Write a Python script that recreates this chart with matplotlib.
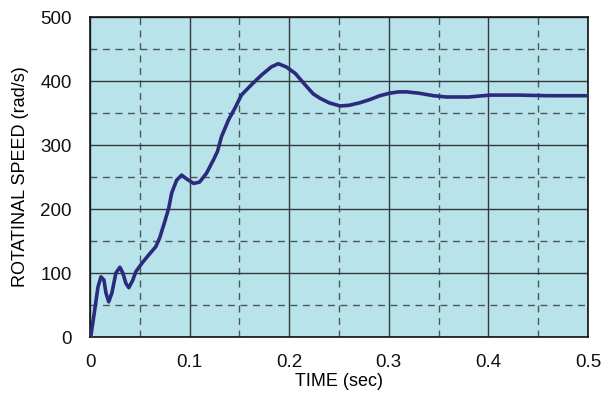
import matplotlib
matplotlib.use("Agg")
import matplotlib.pyplot as plt
from matplotlib.ticker import MultipleLocator

plt.rcParams['font.family'] = ['Liberation Sans', 'DejaVu Sans']

time_s = [0.0, 0.001, 0.0047, 0.008, 0.011, 0.014, 0.016, 0.0188, 0.022, 0.026,
          0.030, 0.033, 0.036, 0.039, 0.043, 0.046, 0.053, 0.061, 0.066, 0.070,
          0.075, 0.079, 0.082, 0.087, 0.092, 0.097, 0.104, 0.110, 0.117, 0.124,
          0.128, 0.132, 0.139, 0.146, 0.152, 0.162, 0.172, 0.182, 0.189, 0.197,
          0.206, 0.216, 0.224, 0.231, 0.240, 0.251, 0.260, 0.271, 0.281, 0.291,
          0.301, 0.310, 0.318, 0.330, 0.345, 0.358, 0.380, 0.402, 0.430, 0.460,
          0.500]
speed = [0, 3, 42, 78, 94, 89, 69, 55, 69, 100,
         109, 100, 84, 77, 89, 102, 117, 132, 141, 155,
         180, 201, 225, 245, 253, 247, 240, 242, 256, 277,
         290, 313, 339, 359, 378, 394, 409, 422, 427, 422,
         412, 394, 380, 373, 366, 361, 362, 366, 371, 377,
         381, 383, 383, 381, 377, 375, 375, 378, 378, 377,
         377]
xticks = [0, 0.1, 0.2, 0.3, 0.4, 0.5]
xticklabels = ['0', '0.1', '0.2', '0.3', '0.4', '0.5']
yticks = [0, 100, 200, 300, 400, 500]

fig = plt.figure(figsize=(6.05, 4.11), dpi=100)
ax = fig.add_axes([90/605, 1-337/411, (588-90)/605, (337-17)/411])
ax.set_facecolor('#b9e3ea')
ax.set_xlim(0, 0.5)
ax.set_ylim(0, 500)
ax.set_xticks(xticks)
ax.set_xticklabels(xticklabels)
ax.set_yticks(yticks)
ax.xaxis.set_minor_locator(MultipleLocator(0.05))
ax.yaxis.set_minor_locator(MultipleLocator(50))
ax.grid(which='major', color='#2f3a3c', linewidth=1.0, linestyle='-')
ax.grid(which='minor', color='#4a5558', linewidth=1.0, linestyle=(0, (5, 4)))
ax.set_axisbelow(True)
ax.tick_params(which='both', length=0, labelsize=13.5, colors='#111111')
ax.tick_params(axis='x', pad=12)
ax.tick_params(axis='y', pad=13)
for s in ax.spines.values():
    s.set_color('#111111')
    s.set_linewidth(1.2)

ax.plot(time_s, speed, color='#2b2a7c', linewidth=2.6, solid_capstyle='round',
        solid_joinstyle='round', zorder=3)
ax.set_xlabel('TIME (sec)', fontsize=13, labelpad=2)
ax.set_ylabel('ROTATINAL SPEED (rad/s)', fontsize=13, labelpad=8)

fig.savefig('out.png', dpi=100)
